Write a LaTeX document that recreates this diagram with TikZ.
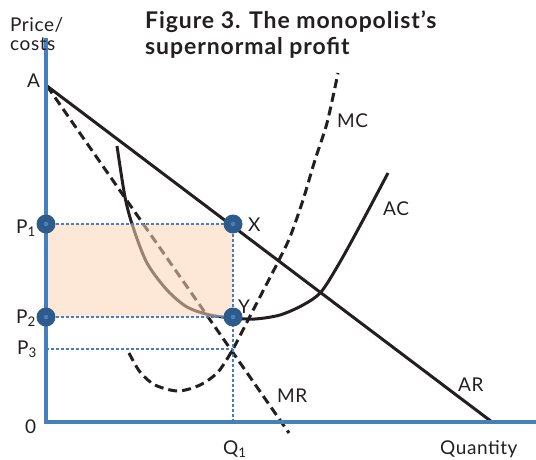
\documentclass[tikz,border=0pt]{standalone}
\usepackage{fontspec}
\setmainfont{Lato}
\newfontfamily\lblfont[LetterSpace=3]{Lato}
\newfontfamily\ttlfont[LetterSpace=4]{Lato}
\definecolor{axisblue}{RGB}{70,127,189}
\definecolor{dotblue}{RGB}{45,92,140}
\definecolor{dotcore}{RGB}{74,128,190}
\definecolor{peach}{RGB}{251,213,184}
\definecolor{ink}{RGB}{35,31,32}
\begin{document}
\begin{tikzpicture}[x=1pt,y=-1pt,
  lbl/.style={inner sep=0pt, anchor=base west, font=\lblfont\fontsize{19}{21}\selectfont, text=ink},
  ttl/.style={inner sep=0pt, anchor=base west, font=\ttlfont\fontsize{23}{25}\selectfont\bfseries, text=ink},
  axisline/.style={draw=axisblue, line width=3.5pt},
  guide/.style={draw=axisblue, line width=2.5pt, dash pattern=on 2.5pt off 2.5pt},
  solidcurve/.style={draw=ink, line width=3pt},
  dashcurve/.style={draw=ink, line width=3pt, dash pattern=on 9pt off 5pt},
  pt/.style={circle, fill=dotblue, minimum size=19pt, inner sep=0pt},
  ptcore/.style={circle, fill=dotcore, minimum size=4.5pt, inner sep=0pt}]
\useasboundingbox (0,0) rectangle (536,460);
% key points
\coordinate (O) at (46,422);
\coordinate (top) at (46,38);
\coordinate (xend) at (536,422);
\coordinate (A) at (47,86);
\coordinate (ARend) at (492,422);
\coordinate (MRend) at (289,433);
\coordinate (P1) at (46,224);
\coordinate (P2) at (46,317);
\coordinate (P3) at (46,349);
\coordinate (X) at (233,224);
\coordinate (Y) at (233,317);
\coordinate (E) at (233,349);
\coordinate (Q1) at (233,422);
% curves
\draw[solidcurve] (A) -- (ARend);
\draw[dashcurve] (A) -- (MRend);
\draw[solidcurve] plot[smooth, tension=0.5] coordinates {(117,146) (125,197) (133,227) (147,263) (167,290) (187,307) (210,315) (233,318) (255,319) (280,315) (303,305) (321,292) (340,262) (362,222) (388,173)};
\draw[dashcurve] plot[smooth, tension=0.5] coordinates {(129,353) (140,372) (155,385) (178,391) (200,385) (218,372) (233,349) (248,320) (262,293) (278,262) (290,237) (303,200) (315,160) (327,123) (338,73)};
% profit area
\fill[peach, fill opacity=0.55] (P1) rectangle (Y);
% axes
\draw[axisline] (top) -- (O) -- (xend);
% guides
\draw[guide] (P1) -- (X);
\draw[guide] (P2) -- (Y);
\draw[guide] (P3) -- (E);
\draw[guide] (X) -- (Q1);
% dots
\foreach \p in {P1,P2,X,Y}{
  \node[pt] at (\p) {};
  \node[ptcore] at (\p) {};
}
% labels
\node[lbl] (lprice) at (10,32) {Price/};
\node[lbl] (lcosts) at (10,51) {costs};
\node[ttl] (t1) at (145,29) {Figure 3. The monopolist’s};
\node[ttl] (t2) at (145,55) {supernormal profit};
\node[lbl] (lA) at (27,88) {A};
\node[lbl] (lP1) at (16,233) {P\textsubscript{1}};
\node[lbl] (lP2) at (16,323) {P\textsubscript{2}};
\node[lbl] (lP3) at (17,354) {P\textsubscript{3}};
\node[lbl] (l0) at (25,433) {0};
\node[lbl] (lQ1) at (223,454) {Q\textsubscript{1}};
\node[lbl] (lQ) at (440,454) {Quantity};
\node[lbl] (lX) at (248,231) {X};
\node[lbl] (lY) at (238,313) {Y};
\node[lbl] (lMC) at (337,128) {MC};
\node[lbl] (lAC) at (383,215) {AC};
\node[lbl] (lMR) at (277,402) {MR};
\node[lbl] (lAR) at (458,391) {AR};
\end{tikzpicture}
\end{document}
